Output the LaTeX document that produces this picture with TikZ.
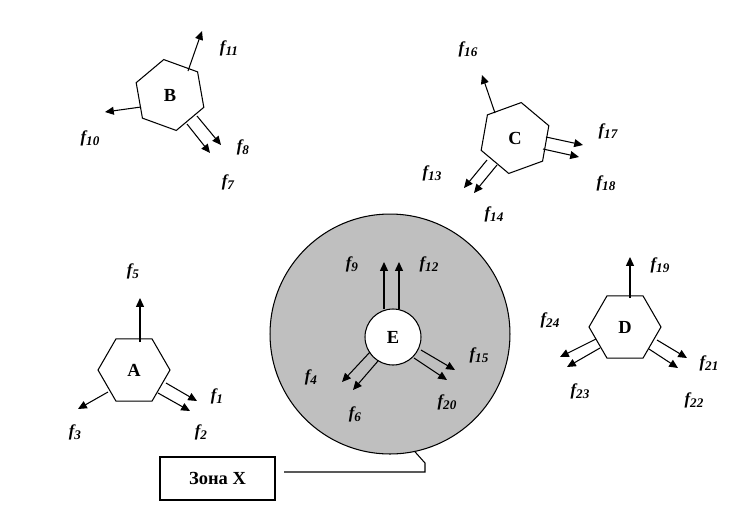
\documentclass[tikz,border=0pt]{standalone}
\usepackage{fontspec}
\setmainfont{Liberation Serif}
\usetikzlibrary{arrows.meta,shapes.geometric}
\newcommand{\fl}[1]{f\raisebox{-0.4ex}{\fontsize{7.5}{8}\selectfont #1}}
\tikzset{
  hexa/.style={draw, regular polygon, regular polygon sides=6, minimum size=1.44cm, inner sep=0pt, outer sep=0pt, fill=white, line width=0.6pt, font=\fontsize{10.5}{12}\selectfont\bfseries},
  hub/.style={draw, circle, fill=white, minimum size=1.12cm, inner sep=0pt, line width=0.6pt, font=\fontsize{10.5}{12}\selectfont\bfseries},
  zonecirc/.style={draw, circle, fill=black!25, minimum size=4.8cm, line width=0.6pt},
  zonebox/.style={draw, minimum width=2.3cm, minimum height=0.86cm, line width=0.6pt, font=\fontsize{10.5}{12}\selectfont\bfseries},
  lbl/.style={inner sep=0pt, font=\fontsize{9.5}{11}\selectfont\bfseries\itshape},
  flow/.style={-{Triangle[length=5pt,width=4.5pt]}, line width=0.6pt},
}
\begin{document}
\begin{tikzpicture}[x=0.02cm, y=-0.02cm]
  \useasboundingbox (0,0) rectangle (745,522);
  % zone X with hub E
  \node[zonecirc] (zone) at (390,334) {};
  \node[hub] (E) at (393,337) {E};
  \node[zonebox] (zbox) at (217.5,478.5) {Зона X};
  \coordinate (lead0) at (284,472);
  \coordinate (lead1) at (425,472);
  \coordinate (lead2) at (425,463);
  \draw[line width=0.6pt] (lead0) -- (lead1) -- (lead2) -- (zone.-78);
  % hexagons
  \node[hexa] (A) at (134,370) {A};
  \node[hexa, shape border rotate=-20] (B) at (170,95) {B};
  \node[hexa, shape border rotate=20] (C) at (515,138) {C};
  \node[hexa] (D) at (625,327) {D};
  % arrow ends
  \coordinate (a5s) at (140,342);  \coordinate (a5e) at (140,298);
  \coordinate (a1s) at (166,383);  \coordinate (a1e) at (197,401);
  \coordinate (a2s) at (158,393);  \coordinate (a2e) at (190,411);
  \coordinate (a3s) at (108,392);  \coordinate (a3e) at (78,409);
  \coordinate (b11s) at (188,71);  \coordinate (b11e) at (202,31);
  \coordinate (b10s) at (141,107); \coordinate (b10e) at (105,112);
  \coordinate (b8s) at (197,116);  \coordinate (b8e) at (221,145);
  \coordinate (b7s) at (187,124);  \coordinate (b7e) at (210,153);
  \coordinate (c16s) at (495,113); \coordinate (c16e) at (482,75);
  \coordinate (c17s) at (546,137); \coordinate (c17e) at (583,145);
  \coordinate (c18s) at (543,149); \coordinate (c18e) at (579,157);
  \coordinate (c13s) at (487,160); \coordinate (c13e) at (464,188);
  \coordinate (c14s) at (497,165); \coordinate (c14e) at (474,193);
  \coordinate (e9s) at (384,309);  \coordinate (e9e) at (384,262);
  \coordinate (e12s) at (399,309); \coordinate (e12e) at (399,262);
  \coordinate (e15s) at (421,350); \coordinate (e15e) at (455,370);
  \coordinate (e20s) at (414,358); \coordinate (e20e) at (447,380);
  \coordinate (e4s) at (370,352);  \coordinate (e4e) at (342,382);
  \coordinate (e6s) at (378,361);  \coordinate (e6e) at (353,390);
  \coordinate (d19s) at (630,298); \coordinate (d19e) at (630,257);
  \coordinate (d21s) at (657,340); \coordinate (d21e) at (687,358);
  \coordinate (d22s) at (649,349); \coordinate (d22e) at (678,368);
  \coordinate (d24s) at (596,339); \coordinate (d24e) at (560,357);
  \coordinate (d23s) at (600,348); \coordinate (d23e) at (567,367);
  \draw[flow] (a5s) -- (a5e);
  \draw[flow] (a1s) -- (a1e);
  \draw[flow] (a2s) -- (a2e);
  \draw[flow] (a3s) -- (a3e);
  \draw[flow] (b11s) -- (b11e);
  \draw[flow] (b10s) -- (b10e);
  \draw[flow] (b8s) -- (b8e);
  \draw[flow] (b7s) -- (b7e);
  \draw[flow] (c16s) -- (c16e);
  \draw[flow] (c17s) -- (c17e);
  \draw[flow] (c18s) -- (c18e);
  \draw[flow] (c13s) -- (c13e);
  \draw[flow] (c14s) -- (c14e);
  \draw[flow] (e9s) -- (e9e);
  \draw[flow] (e12s) -- (e12e);
  \draw[flow] (e15s) -- (e15e);
  \draw[flow] (e20s) -- (e20e);
  \draw[flow] (e4s) -- (e4e);
  \draw[flow] (e6s) -- (e6e);
  \draw[flow] (d19s) -- (d19e);
  \draw[flow] (d21s) -- (d21e);
  \draw[flow] (d22s) -- (d22e);
  \draw[flow] (d24s) -- (d24e);
  \draw[flow] (d23s) -- (d23e);
  % labels
  \node[lbl] (lf5) at (133,271) {\fl{5}};
  \node[lbl] (lf1) at (217,396) {\fl{1}};
  \node[lbl] (lf2) at (201,432) {\fl{2}};
  \node[lbl] (lf3) at (75,432) {\fl{3}};
  \node[lbl] (lf11) at (229,48) {\fl{11}};
  \node[lbl] (lf10) at (90,138) {\fl{10}};
  \node[lbl] (lf8) at (243,147) {\fl{8}};
  \node[lbl] (lf7) at (228,182) {\fl{7}};
  \node[lbl] (lf16) at (468,49) {\fl{16}};
  \node[lbl] (lf17) at (608,131) {\fl{17}};
  \node[lbl] (lf18) at (606,183) {\fl{18}};
  \node[lbl] (lf13) at (432,173) {\fl{13}};
  \node[lbl] (lf14) at (494,214) {\fl{14}};
  \node[lbl] (lf9) at (352,264) {\fl{9}};
  \node[lbl] (lf12) at (429,264) {\fl{12}};
  \node[lbl] (lf15) at (479,355) {\fl{15}};
  \node[lbl] (lf20) at (447,402) {\fl{20}};
  \node[lbl] (lf4) at (311,377) {\fl{4}};
  \node[lbl] (lf6) at (355,414) {\fl{6}};
  \node[lbl] (lf19) at (660,265) {\fl{19}};
  \node[lbl] (lf21) at (709,363) {\fl{21}};
  \node[lbl] (lf22) at (694,400) {\fl{22}};
  \node[lbl] (lf24) at (550,320) {\fl{24}};
  \node[lbl] (lf23) at (580,391) {\fl{23}};
\end{tikzpicture}
\end{document}
